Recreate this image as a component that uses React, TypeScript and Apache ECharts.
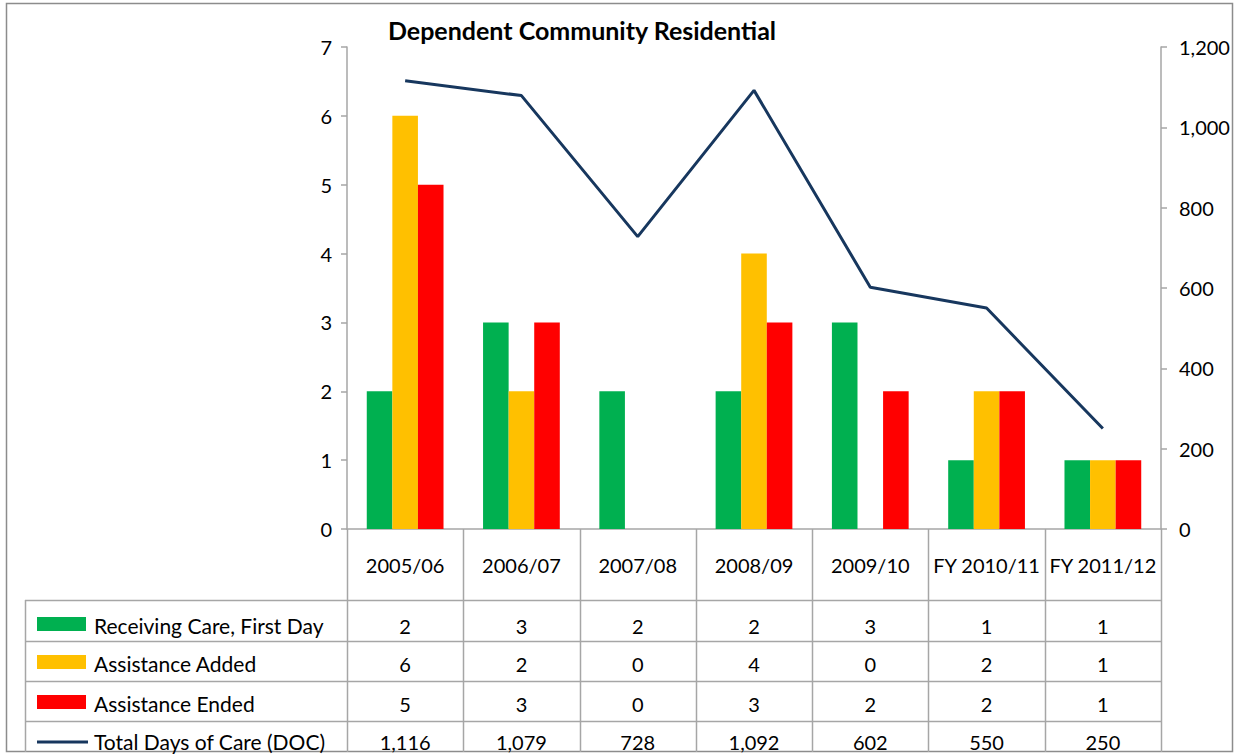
import React, { useEffect, useRef } from "react";
import * as echarts from "echarts";

const categories = ["2005/06", "2006/07", "2007/08", "2008/09", "2009/10", "FY 2010/11", "FY 2011/12"];
const receivingCare = [2, 3, 2, 2, 3, 1, 1];
const assistanceAdded = [6, 2, 0, 4, 0, 2, 1];
const assistanceEnded = [5, 3, 0, 3, 2, 2, 1];
const totalDays = [1116, 1079, 728, 1092, 602, 550, 250];
const seriesNames = ["Receiving Care, First Day", "Assistance Added", "Assistance Ended", "Total Days of Care (DOC)"];
const seriesColors = ["#00b050", "#ffc000", "#ff0000", "#17375e"];
const title = "Dependent Community Residential";

const W = 1235;
const H = 755;
const GL = 347;
const GR = 1161;
const GT = 47;
const GB = 529;
const FONT = "Lato, 'Open Sans', sans-serif";
const GRID_LINE = "#a6a6a6";

const fmt = (v: number) => v.toLocaleString("en-US");

export default function App() {
  const ref = useRef<HTMLDivElement>(null);
  useEffect(() => {
    if (!ref.current) return;
    const chart = echarts.init(ref.current, undefined, { renderer: "svg" });
    const n = categories.length;
    const colW = (GR - GL) / n;
    const tableLeft = 25;
    const rowLines = [600, 641, 681, 721];
    const rowTextY = [626, 664, 704, 742];
    const tableBottom = 752;
    const rows = [receivingCare, assistanceAdded, assistanceEnded, totalDays];

    const graphics: any[] = [];
    graphics.push({
      type: "rect",
      shape: { x: 6.5, y: 3.5, width: 1226, height: 748 },
      style: { fill: "none", stroke: "#8c8c8c", lineWidth: 1.5 },
      silent: true,
    });
    rowLines.forEach((y) => {
      graphics.push({
        type: "line",
        shape: { x1: tableLeft, y1: y + 0.5, x2: GR, y2: y + 0.5 },
        style: { stroke: GRID_LINE, lineWidth: 1.5 },
        silent: true,
      });
    });
    graphics.push({
      type: "line",
      shape: { x1: tableLeft + 0.5, y1: rowLines[0], x2: tableLeft + 0.5, y2: tableBottom },
      style: { stroke: GRID_LINE, lineWidth: 1.5 },
      silent: true,
    });
    for (let i = 0; i <= n; i++) {
      const x = Math.round(GL + i * colW) + 0.5;
      graphics.push({
        type: "line",
        shape: { x1: x, y1: GB, x2: x, y2: tableBottom },
        style: { stroke: GRID_LINE, lineWidth: 1.5 },
        silent: true,
      });
    }
    rows.forEach((_, r) => {
      const cy = rowTextY[r];
      if (r < 3) {
        graphics.push({
          type: "rect",
          shape: { x: 37, y: cy - 9, width: 49, height: 14 },
          style: { fill: seriesColors[r] },
          silent: true,
        });
      } else {
        graphics.push({
          type: "line",
          shape: { x1: 37, y1: cy, x2: 88, y2: cy },
          style: { stroke: seriesColors[r], lineWidth: 3 },
          silent: true,
        });
      }
      graphics.push({
        type: "text",
        x: 94,
        y: cy - 1,
        style: {
          text: seriesNames[r],
          fill: "#000",
          font: `21px ${FONT}`,
          textVerticalAlign: "middle",
          textAlign: "left",
        },
        silent: true,
      });
    });
    rows.forEach((vals, r) => {
      vals.forEach((v, i) => {
        graphics.push({
          type: "text",
          x: GL + (i + 0.5) * colW,
          y: rowTextY[r],
          style: {
            text: r === 3 ? fmt(v) : String(v),
            fill: "#000",
            font: `20px ${FONT}`,
            textAlign: "center",
            textVerticalAlign: "middle",
          },
          silent: true,
        });
      });
    });

    chart.setOption({
      animation: false,
      backgroundColor: "#ffffff",
      title: {
        text: title,
        left: 577,
        top: 12,
        textAlign: "center",
        textStyle: { fontFamily: FONT, fontWeight: "bold", fontSize: 25, color: "#000" },
      },
      grid: { left: GL, right: W - GR, top: GT, bottom: H - GB, containLabel: false },
      xAxis: {
        type: "category",
        data: categories,
        axisLine: { show: true, lineStyle: { color: GRID_LINE, width: 1.5 } },
        axisTick: { show: false },
        axisLabel: { margin: 26, fontFamily: FONT, fontSize: 20, color: "#000", interval: 0 },
      },
      yAxis: [
        {
          type: "value",
          min: 0,
          max: 7,
          interval: 1,
          splitLine: { show: false },
          axisLine: { show: true, lineStyle: { color: GRID_LINE, width: 1.5 } },
          axisTick: { show: true, length: 6, lineStyle: { color: GRID_LINE, width: 1.5 } },
          axisLabel: { margin: 15, fontFamily: FONT, fontSize: 20, color: "#000" },
        },
        {
          type: "value",
          min: 0,
          max: 1200,
          interval: 200,
          position: "right",
          splitLine: { show: false },
          axisLine: { show: true, lineStyle: { color: GRID_LINE, width: 1.5 } },
          axisTick: { show: true, length: 6, lineStyle: { color: GRID_LINE, width: 1.5 } },
          axisLabel: { margin: 18, fontFamily: FONT, fontSize: 20, color: "#000", formatter: (v: number) => fmt(v) },
        },
      ],
      series: [
        {
          name: seriesNames[0],
          type: "bar",
          data: receivingCare,
          itemStyle: { color: seriesColors[0] },
          barGap: "0%",
          barCategoryGap: "34%",
        },
        {
          name: seriesNames[1],
          type: "bar",
          data: assistanceAdded,
          itemStyle: { color: seriesColors[1] },
          barGap: "0%",
          barCategoryGap: "34%",
        },
        {
          name: seriesNames[2],
          type: "bar",
          data: assistanceEnded,
          itemStyle: { color: seriesColors[2] },
          barGap: "0%",
          barCategoryGap: "34%",
        },
        {
          name: seriesNames[3],
          type: "line",
          yAxisIndex: 1,
          data: totalDays,
          showSymbol: false,
          symbol: "none",
          lineStyle: { color: seriesColors[3], width: 3 },
          itemStyle: { color: seriesColors[3] },
        },
      ],
      graphic: graphics,
    });
    return () => chart.dispose();
  }, []);
  return <div ref={ref} style={{ position: "absolute", left: 0, top: 0, width: W, height: H }} />;
}
